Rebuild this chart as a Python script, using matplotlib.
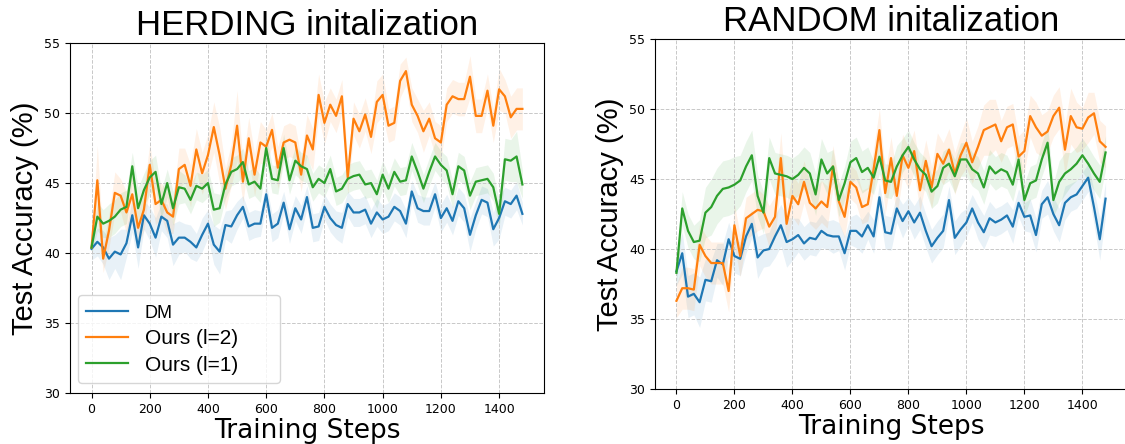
import numpy as np
import matplotlib
matplotlib.use("Agg")
import matplotlib.pyplot as plt

steps = np.arange(0, 1500, 20)

# HERDING initialization
herd_dm = [40.3, 40.8, 40.4, 39.6, 40.1, 39.9, 40.7, 42.7, 40.4, 42.7, 42.1, 41.1, 42.6, 42.3, 40.6, 41.1, 41.1, 40.8, 40.4, 41.3,
           42.1, 40.6, 40.1, 42.0, 41.9, 42.7, 43.3, 41.9, 42.1, 42.1, 44.2, 41.8, 42.1, 43.6, 41.7, 43.2, 42.4, 44.0, 41.8, 41.9,
           43.3, 42.5, 42.0, 41.8, 43.5, 42.9, 42.9, 43.1, 42.1, 42.9, 42.4, 42.6, 43.3, 43.0, 42.1, 44.4, 43.2, 43.0, 43.0, 44.2,
           42.5, 43.2, 42.3, 43.7, 43.2, 41.3, 42.7, 43.8, 43.6, 41.7, 42.5, 43.7, 43.5, 44.1, 42.8]
herd_l2 = [40.4, 45.2, 39.6, 41.6, 44.3, 44.1, 42.9, 44.2, 41.8, 43.1, 46.3, 43.5, 43.8, 42.9, 42.6, 46.0, 46.3, 44.8, 47.4, 45.7,
           47.0, 49.0, 47.0, 44.6, 46.3, 49.1, 45.1, 48.2, 45.6, 47.9, 47.6, 48.8, 46.1, 47.9, 48.1, 47.9, 45.6, 48.4, 47.4, 51.3,
           49.3, 50.6, 49.8, 51.2, 45.4, 49.6, 48.7, 49.9, 48.3, 50.8, 51.3, 49.1, 49.3, 52.3, 53.0, 50.6, 49.8, 48.7, 49.6, 48.2,
           47.9, 50.6, 51.2, 51.0, 51.0, 52.6, 49.8, 49.8, 51.6, 49.1, 51.7, 51.2, 49.7, 50.3, 50.3]
herd_l1 = [40.4, 42.6, 42.1, 42.3, 42.6, 43.1, 43.3, 46.2, 43.2, 44.5, 45.4, 45.8, 43.5, 45.0, 43.2, 44.7, 44.6, 43.8, 44.8, 44.6,
           45.0, 43.1, 43.2, 44.9, 45.8, 46.0, 46.5, 44.9, 45.1, 44.6, 47.5, 45.3, 45.2, 47.5, 45.2, 46.6, 46.2, 46.0, 44.7, 45.3,
           45.0, 46.0, 44.4, 44.6, 45.3, 45.5, 45.6, 44.9, 45.0, 44.2, 45.6, 44.6, 45.8, 45.1, 45.2, 46.9, 45.8, 44.6, 45.8, 46.9,
           46.3, 45.9, 44.2, 46.2, 45.9, 44.1, 45.1, 45.2, 45.3, 44.7, 42.8, 46.7, 46.6, 46.9, 44.9]
herd_dm_std = [0.8, 1.0, 1.2, 1.5, 1.2, 1.8, 1.0, 1.2, 1.5, 1.0, 1.2, 1.4, 1.0, 1.2, 1.5, 1.2, 1.0, 1.2, 1.0, 1.2,
               1.0, 1.4, 1.6, 1.0, 1.2, 1.0, 0.8, 1.0, 1.0, 0.9, 0.8, 1.0, 1.0, 0.8, 1.0, 0.9, 1.0, 0.8, 1.0, 1.0,
               0.9, 1.0, 1.0, 1.1, 0.9, 1.0, 1.0, 1.0, 1.0, 1.0, 1.0, 1.0, 1.0, 1.0, 1.0, 0.8, 1.0, 1.0, 1.0, 0.9,
               1.0, 1.0, 1.0, 1.0, 1.0, 1.2, 1.0, 1.0, 1.0, 1.2, 1.5, 1.0, 1.0, 1.0, 0.8]
herd_l2_std = [0.5, 2.5, 1.0, 1.2, 1.5, 1.2, 1.5, 1.5, 1.2, 1.5, 1.5, 1.5, 1.2, 1.5, 1.2, 1.5, 1.2, 1.5, 1.5, 1.5,
               1.5, 1.8, 2.0, 1.5, 1.5, 2.5, 1.5, 1.5, 1.5, 1.5, 1.2, 1.2, 1.5, 1.2, 1.2, 1.2, 1.2, 1.5, 1.5, 1.5,
               1.5, 1.2, 1.2, 1.2, 1.2, 1.2, 1.2, 1.2, 1.2, 1.5, 1.5, 1.2, 1.2, 1.2, 1.0, 1.2, 1.2, 1.5, 1.2, 1.2,
               1.2, 1.2, 1.2, 1.2, 1.2, 1.5, 1.2, 1.2, 1.2, 1.2, 1.5, 1.2, 1.5, 1.5, 1.5]
herd_l1_std = [0.5, 1.0, 1.0, 1.2, 1.2, 1.2, 1.2, 1.0, 1.5, 1.2, 1.2, 1.2, 1.0, 1.0, 1.2, 1.2, 1.0, 1.0, 1.0, 1.0,
               1.0, 1.2, 1.0, 1.0, 1.0, 1.0, 1.0, 1.0, 1.0, 1.0, 1.0, 1.0, 1.0, 1.0, 1.0, 1.0, 1.0, 1.0, 1.0, 1.0,
               1.0, 1.0, 1.0, 1.0, 1.0, 1.0, 1.0, 1.0, 1.0, 1.0, 1.0, 1.0, 1.0, 1.0, 1.0, 1.0, 1.0, 1.0, 1.0, 1.0,
               1.0, 1.0, 1.0, 1.0, 1.0, 1.0, 1.0, 1.0, 1.0, 1.0, 1.0, 1.5, 1.5, 1.8, 1.0]

# RANDOM initialization
rand_dm = [38.4, 39.7, 36.6, 36.8, 36.2, 37.8, 37.7, 39.2, 38.9, 40.7, 39.5, 39.3, 40.9, 41.8, 39.4, 39.9, 40.0, 40.9, 41.7, 40.5,
           40.7, 41.0, 40.4, 40.8, 40.7, 41.3, 41.0, 40.9, 40.9, 39.7, 41.3, 41.3, 40.9, 41.7, 40.9, 43.7, 41.2, 41.1, 42.9, 42.0,
           42.7, 41.9, 42.6, 41.3, 40.2, 40.8, 41.3, 43.5, 40.8, 41.4, 41.9, 42.9, 41.9, 41.2, 42.2, 41.9, 42.1, 42.4, 41.6, 43.3,
           42.3, 42.4, 41.0, 43.2, 43.7, 42.5, 41.7, 43.3, 43.7, 43.9, 44.5, 45.1, 43.0, 40.7, 43.6]
rand_l2 = [36.3, 37.2, 37.2, 37.1, 40.3, 39.5, 39.0, 39.0, 39.0, 37.0, 41.7, 39.5, 42.2, 42.5, 42.8, 42.7, 41.6, 42.3, 46.5, 41.8,
           43.8, 43.2, 44.8, 43.3, 42.9, 43.4, 43.0, 45.9, 43.4, 42.3, 44.8, 44.4, 43.0, 43.2, 45.7, 48.5, 44.0, 46.5, 43.8, 46.7,
           45.8, 47.0, 44.2, 46.3, 44.4, 46.8, 46.1, 47.1, 45.4, 46.7, 47.6, 46.2, 47.3, 48.5, 48.7, 48.9, 47.7, 48.7, 48.9, 46.6,
           47.0, 49.5, 48.7, 48.1, 48.4, 49.5, 50.1, 47.1, 49.5, 48.7, 48.6, 49.4, 49.7, 47.7, 47.3]
rand_l1 = [38.3, 42.9, 41.3, 40.5, 40.6, 42.6, 43.0, 43.8, 44.3, 44.4, 44.6, 44.9, 45.9, 46.7, 43.8, 42.6, 46.5, 45.4, 45.3, 45.2,
           45.0, 45.3, 45.8, 45.4, 43.9, 46.4, 45.4, 45.9, 43.5, 44.7, 46.2, 46.5, 45.5, 45.8, 45.1, 46.6, 44.9, 44.8, 45.9, 46.7,
           47.3, 46.4, 45.7, 45.3, 44.1, 44.5, 45.8, 46.1, 45.2, 46.4, 46.4, 45.7, 45.4, 44.4, 45.9, 45.4, 45.7, 45.5, 44.6, 46.4,
           43.5, 44.7, 44.9, 46.4, 47.6, 43.5, 44.8, 45.4, 45.7, 46.1, 46.7, 46.1, 45.4, 44.8, 46.9]
rand_dm_std = [1.0, 1.5, 1.5, 1.5, 1.8, 1.5, 1.5, 1.2, 1.5, 1.2, 1.2, 1.2, 1.2, 1.0, 1.5, 1.2, 1.2, 1.5, 1.5, 1.8,
               1.5, 1.2, 1.2, 1.2, 1.2, 1.2, 1.0, 1.2, 1.0, 1.2, 1.0, 1.2, 1.2, 1.0, 1.2, 1.0, 1.2, 1.2, 1.0, 1.2,
               1.0, 1.2, 1.2, 1.2, 1.2, 1.2, 1.2, 1.0, 1.2, 1.2, 1.0, 1.0, 1.2, 1.2, 1.2, 1.0, 1.0, 1.0, 1.2, 1.0,
               1.0, 1.2, 1.2, 1.0, 1.2, 1.2, 1.2, 1.2, 1.0, 1.0, 1.0, 1.0, 1.2, 1.5, 1.2]
rand_l2_std = [1.2, 1.5, 1.5, 1.5, 1.5, 1.5, 1.5, 1.5, 1.5, 1.5, 1.5, 1.5, 1.5, 1.5, 1.5, 1.2, 1.5, 1.5, 1.8, 1.5,
               1.5, 1.5, 1.5, 1.5, 1.5, 1.5, 1.5, 1.5, 1.5, 1.5, 1.2, 1.2, 1.2, 1.2, 1.5, 1.5, 1.5, 1.5, 1.5, 1.5,
               1.5, 1.5, 1.5, 1.5, 1.5, 1.5, 1.5, 1.5, 1.5, 1.5, 1.8, 1.5, 1.5, 1.8, 2.0, 1.8, 1.5, 1.5, 1.5, 1.5,
               1.5, 1.5, 1.8, 1.5, 1.5, 1.5, 1.5, 1.8, 2.0, 1.8, 1.5, 1.8, 1.5, 1.5, 1.5]
rand_l1_std = [0.8, 1.2, 1.2, 1.2, 1.5, 1.8, 2.0, 2.0, 2.0, 2.0, 2.0, 1.8, 1.8, 1.8, 1.5, 1.5, 1.5, 1.5, 1.5, 1.5,
               1.5, 1.5, 1.5, 1.5, 1.5, 1.5, 1.5, 1.2, 1.2, 1.2, 1.5, 1.5, 1.5, 1.5, 1.2, 1.2, 1.2, 1.2, 1.5, 1.2,
               1.2, 1.2, 1.2, 1.2, 1.2, 1.2, 1.2, 1.2, 1.2, 1.2, 1.2, 1.2, 1.2, 1.2, 1.2, 1.2, 1.2, 1.2, 1.2, 1.2,
               1.2, 1.2, 1.2, 1.2, 1.2, 1.2, 1.5, 1.5, 1.2, 1.2, 1.2, 1.2, 1.2, 1.2, 1.2]

labels = ["DM", "Ours (l=2)", "Ours (l=1)"]
colors = ["#1f77b4", "#ff7f0e", "#2ca02c"]
arial = "Liberation Sans"


def draw(ax, series, stds, title):
    for mean, std, lab, col in zip(series, stds, labels, colors):
        mean = np.array(mean)
        std = np.array(std)
        ax.fill_between(steps, mean - std, mean + std, color=col, alpha=0.1, lw=0)
        ax.plot(steps, mean, color=col, lw=1.6, label=lab)
    ax.set_ylim(30, 55)
    ax.set_yticks([30, 35, 40, 45, 50, 55])
    ax.set_xticks([0, 200, 400, 600, 800, 1000, 1200, 1400])
    ax.tick_params(labelsize=9)
    ax.grid(True, linestyle="--", color="#c8c8c8", lw=0.7)
    ax.set_title(title, fontsize=25, family=arial, pad=6)
    ax.set_ylabel("Test Accuracy (%)", fontsize=21, family=arial)
    ax.set_xlabel("Training Steps", fontsize=19, labelpad=2)


fig = plt.figure(figsize=(11.25, 4.44), dpi=100)
ax1 = fig.add_axes([0.0622, 0.1149, 0.4213, 0.788])
ax2 = fig.add_axes([0.5822, 0.1239, 0.4196, 0.788])

draw(ax1, [herd_dm, herd_l2, herd_l1], [herd_dm_std, herd_l2_std, herd_l1_std], "HERDING initalization")
draw(ax2, [rand_dm, rand_l2, rand_l1], [rand_dm_std, rand_l2_std, rand_l1_std], "RANDOM initalization")

leg = ax1.legend(loc="lower left", bbox_to_anchor=(0.017, 0.029, 0.426, 0.25), mode="expand",
                 borderaxespad=0, prop={"family": arial, "size": 15},
                 handlelength=2.0, labelspacing=0.35)
leg.get_texts()[0].set_fontsize(13)

fig.savefig("out.png", dpi=100)
